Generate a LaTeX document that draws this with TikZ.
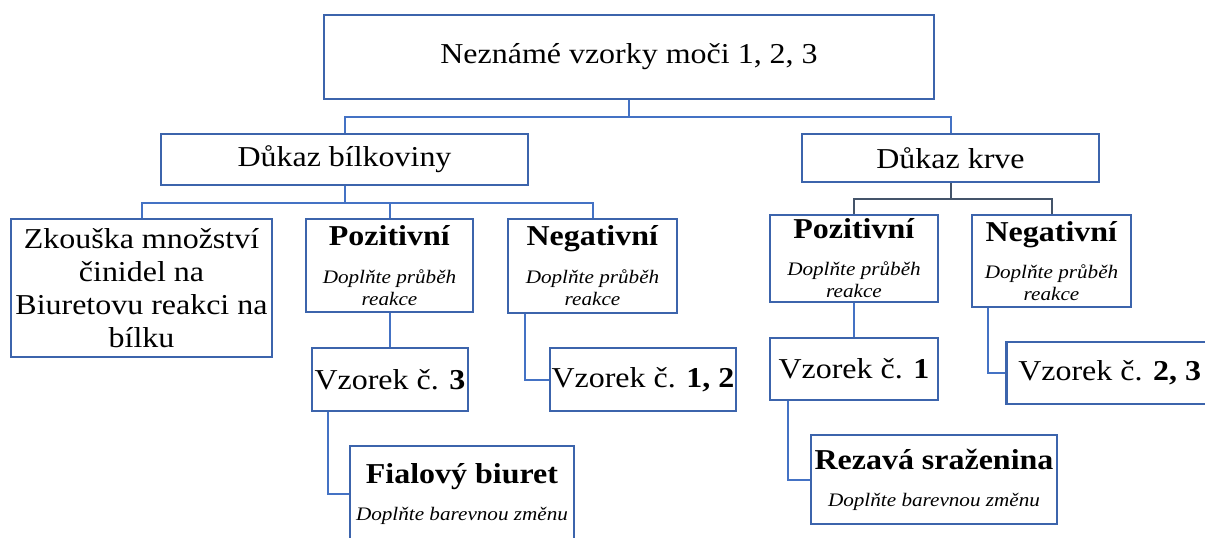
\documentclass[tikz,border=0pt]{standalone}
\usepackage{fontspec}
\setmainfont{Liberation Serif}[FakeStretch=1.11]
\usepackage{tikz}
\definecolor{boxblue}{HTML}{4472C4}
\definecolor{slate}{HTML}{44546A}
\newcommand{\hinttext}[1]{{\fontsize{14.3}{16.5}\selectfont\itshape #1}}

\begin{document}
\begin{tikzpicture}[x=0.75pt,y=-0.75pt,
box/.style={rectangle,draw=boxblue!88!black,line width=1.9pt,fill=white,inner sep=0pt,align=center,font=\fontsize{21.6}{24.75}\selectfont},
link/.style={draw=boxblue,line width=1.5pt},
darklink/.style={draw=slate,line width=1.5pt}]
\useasboundingbox (0,0) rectangle (1205,538);
\clip (0,0) rectangle (1205,538);

\node[box,minimum width=457.5pt,minimum height=63pt] (top) at (629,57) {Neznámé vzorky moči 1, 2, 3};
\node[box,minimum width=275.25pt,minimum height=38.25pt] (bilk) at (344.5,159.5) {Důkaz bílkoviny};
\node[box,minimum width=222.75pt,minimum height=36pt] (krev) at (950.5,158) {Důkaz krve};

\node[box,minimum width=195.75pt,minimum height=103.5pt] (zk) at (141.5,288) {Zkouška množství\\činidel na\\Biuretovu reakci na\\bílku};
\node[box,minimum width=125.25pt,minimum height=69.75pt] (posL) at (389.5,265.5) {\textbf{Pozitivní}\\[3.75pt]\hinttext{Doplňte průběh}\\[-8.25pt]\hinttext{reakce}};
\node[box,minimum width=126.75pt,minimum height=70.5pt] (negL) at (592.5,266) {\textbf{Negativní}\\[3.75pt]\hinttext{Doplňte průběh}\\[-8.25pt]\hinttext{reakce}};
\node[box,minimum width=117pt,minimum height=47.25pt] (vz3) at (390,379.5) {Vzorek č. \textbf{3}};
\node[box,minimum width=139.5pt,minimum height=47.25pt] (vz12) at (643,379.5) {Vzorek č. \textbf{1, 2}};
\node[box,minimum width=168pt,minimum height=72pt] (fial) at (462,494) {\textbf{Fialový biuret}\\[3pt]\hinttext{Doplňte barevnou změnu}};

\node[box,minimum width=126pt,minimum height=65.25pt] (posR) at (854,258.5) {\textbf{Pozitivní}\\[3pt]\hinttext{Doplňte průběh}\\[-8.25pt]\hinttext{reakce}};
\node[box,minimum width=119.25pt,minimum height=69pt] (negR) at (1051.5,261) {\textbf{Negativní}\\[3pt]\hinttext{Doplňte průběh}\\[-8.25pt]\hinttext{reakce}};
\node[box,minimum width=126pt,minimum height=46.5pt] (vz1) at (854,369) {Vzorek č. \textbf{1}};
\node[box,anchor=west,inner xsep=9pt,minimum height=46.5pt] (vz23) at (1005,373) {Vzorek č. \textbf{2, 3}};
\node[box,minimum width=184.5pt,minimum height=66.75pt] (rez) at (934,479.5) {\textbf{Rezavá sraženina}\\[3pt]\hinttext{Doplňte barevnou změnu}};

\draw[link] (top.south) -- ++(0,17) coordinate (topfork) -| (bilk.north);
\draw[link] (topfork) -| (krev.north);
\draw[link] (bilk.south) -- ++(0,17) coordinate (bilkfork) -| (zk.north);
\draw[link] (bilkfork) -| (posL.north);
\draw[link] (bilkfork) -| (negL.north);
\draw[darklink] (krev.south) -- ++(0,16) coordinate (krevfork) -| (posR.north);
\draw[darklink] (krevfork) -| (negR.north);

\draw[link] (posL.south) -- (posL.south |- vz3.north);
\draw[link] ([xshift=12.75pt]vz3.south west) |- (fial.west);
\draw[link] ([xshift=13.5pt]negL.south west) |- (vz12.west);
\draw[link] (posR.south) -- (vz1.north);
\draw[link] ([xshift=14.25pt]vz1.south west) |- (rez.west);
\draw[link] ([xshift=12.75pt]negR.south west) |- (vz23.west);

\end{tikzpicture}
\end{document}
